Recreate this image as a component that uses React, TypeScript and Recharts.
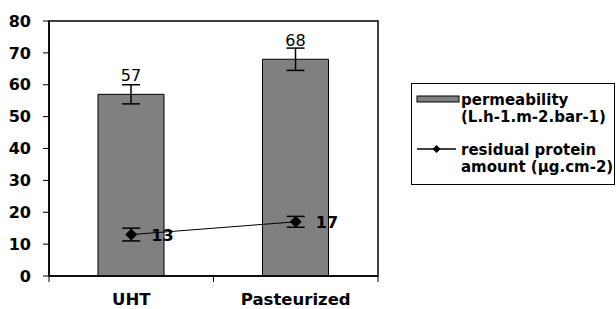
import React from 'react';
import { ComposedChart, Bar, Line, XAxis, YAxis, ErrorBar, LabelList, Legend, ReferenceArea } from 'recharts';

const categories = ['UHT', 'Pasteurized'];
const permeability = [57, 68];
const permeabilityErr = [3, 3.5];
const protein = [13, 17];
const proteinErr = [2, 1.7];
const yTicks = [0, 10, 20, 30, 40, 50, 60, 70, 80];

const data = categories.map((name, i) => ({
  name,
  perm: permeability[i],
  permErr: permeabilityErr[i],
  prot: protein[i],
  protErr: proteinErr[i],
}));

const FONT = '"DejaVu Sans", sans-serif';

const Diamond = (props: any) => {
  const { cx, cy, index } = props;
  if (cx == null || cy == null) return null;
  const r = 6;
  return <path key={`d-${index}`} d={`M${cx},${cy - r}L${cx + r},${cy}L${cx},${cy + r}L${cx - r},${cy}Z`} fill="#000" />;
};

const BarValue = (props: any) => {
  const { x, y, width, value } = props;
  return (
    <text x={x + width / 2} y={y - 13} textAnchor="middle" fontFamily={FONT} fontSize={16} fill="#000">
      {value}
    </text>
  );
};

const LineValue = (props: any) => {
  const { x, y, value } = props;
  return (
    <text x={x + 20} y={y + 6} textAnchor="start" fontFamily={FONT} fontWeight="bold" fontSize={16} fill="#000">
      {value}
    </text>
  );
};

// category label plus Excel-style tick marks at the band edges
const CategoryTick = (props: any) => {
  const { x, y, payload } = props;
  const half = payload && payload.offset ? payload.offset : 82;
  const axisY = y - 17;
  return (
    <g>
      <line x1={x - half} y1={axisY} x2={x - half} y2={axisY + 6} stroke="#000" />
      <line x1={x + half} y1={axisY} x2={x + half} y2={axisY + 6} stroke="#000" />
      <text x={x} y={y} dy="0.71em" textAnchor="middle" fontFamily={FONT} fontWeight="bold" fontSize={16.5} fill="#000">
        {payload.value}
      </text>
    </g>
  );
};

const LegendBox = () => (
  <div
    style={{
      width: 202,
      height: 100,
      border: '1px solid #000',
      position: 'relative',
      fontFamily: FONT,
      fontWeight: 'bold',
      fontSize: 15,
      lineHeight: '17px',
      color: '#000',
      background: '#fff',
    }}
  >
    <svg width={50} height={100} style={{ position: 'absolute', left: 0, top: 0 }}>
      <rect x={5} y={12} width={42} height={6} fill="#808080" stroke="#000" />
      <line x1={5} y1={65} x2={44} y2={65} stroke="#000" strokeWidth={1.5} />
      <path d="M24.5,61L28.5,65L24.5,69L20.5,65Z" fill="#000" />
    </svg>
    <div style={{ position: 'absolute', left: 49, top: 8, whiteSpace: 'nowrap' }}>
      permeability
      <br />
      (L.h-1.m-2.bar-1)
    </div>
    <div style={{ position: 'absolute', left: 49, top: 58, whiteSpace: 'nowrap' }}>
      residual protein
      <br />
      amount (µg.cm-2)
    </div>
  </div>
);

export default function App() {
  return (
    <div style={{ position: 'absolute', left: 0, top: 0, width: 616, height: 309, background: '#fff' }}>
      <ComposedChart width={616} height={309} data={data} margin={{ top: 21, right: 238, bottom: 0, left: 0 }}>
        <XAxis
          dataKey="name"
          axisLine={{ stroke: '#000', strokeWidth: 1.5 }}
          tickLine={false}
          tickSize={6}
          tickMargin={11}
          height={33}
          tick={CategoryTick}
        />
        <YAxis
          domain={[0, 80]}
          ticks={yTicks}
          width={49}
          axisLine={{ stroke: '#000', strokeWidth: 1.5 }}
          tickLine={{ stroke: '#000' }}
          tickSize={6}
          tickMargin={12}
          tick={{ fontFamily: FONT, fontWeight: 'bold', fontSize: 16, fill: '#000' }}
        />
        <ReferenceArea y1={0} y2={80} fill="none" stroke="#000" strokeWidth={1.5} ifOverflow="visible" />
        <Bar dataKey="perm" name="permeability" barSize={66} fill="#808080" stroke="#000" strokeWidth={1} isAnimationActive={false}>
          <ErrorBar dataKey="permErr" width={9} stroke="#000" strokeWidth={1.5} direction="y" />
          <LabelList dataKey="perm" content={BarValue} />
        </Bar>
        <Line
          dataKey="prot"
          name="residual protein"
          stroke="#000"
          strokeWidth={1}
          dot={Diamond}
          activeDot={false}
          isAnimationActive={false}
        >
          <ErrorBar dataKey="protErr" width={9} stroke="#000" strokeWidth={1.5} direction="y" />
          <LabelList dataKey="prot" content={LineValue} />
        </Line>
        <Legend
          layout="horizontal"
          verticalAlign="middle"
          align="center"
          content={LegendBox}
          wrapperStyle={{ left: 411, top: 83, width: 204, height: 102 }}
        />
      </ComposedChart>
    </div>
  );
}
